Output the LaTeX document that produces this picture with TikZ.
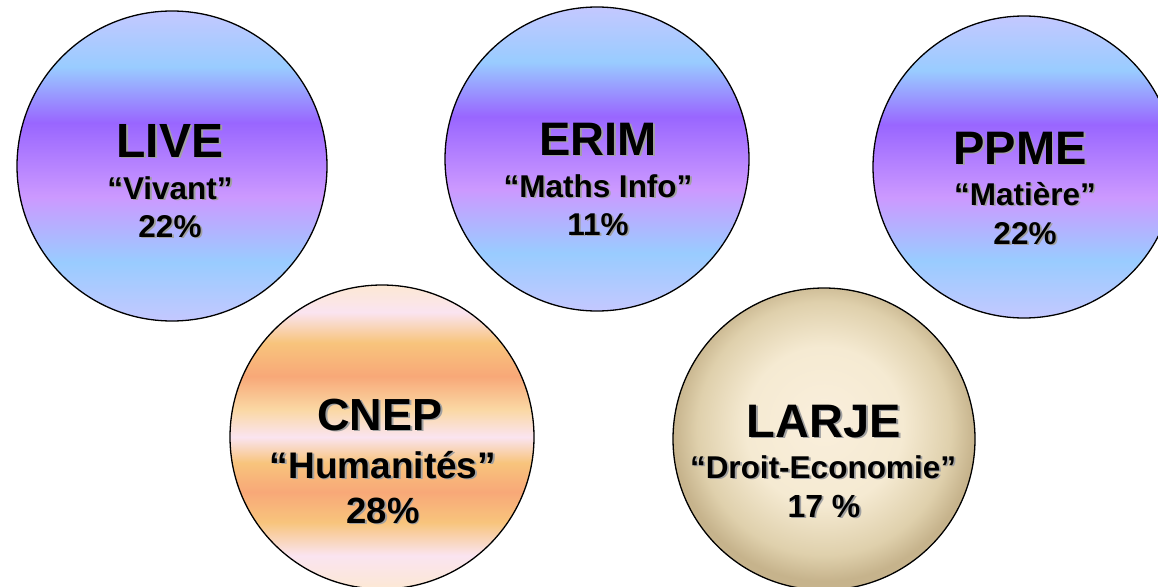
\documentclass[tikz,border=0pt]{standalone}
\usepackage{fontspec}
\setmainfont{Liberation Sans}
\definecolor{lav}{HTML}{C4C8FF}
\definecolor{lblue}{HTML}{99CCFF}
\definecolor{purp}{HTML}{9966FF}
\definecolor{lpurp}{HTML}{CC99FF}
\definecolor{peach}{HTML}{FCE8D4}
\definecolor{pinkw}{HTML}{FAE4F0}
\definecolor{oryel}{HTML}{F8C47C}
\definecolor{salmon}{HTML}{F8A878}
\definecolor{lyel}{HTML}{FAD8A4}
\definecolor{cream}{HTML}{FAEFDC}
\definecolor{cream2}{HTML}{F5EAD2}
\definecolor{tanA}{HTML}{DFD0AC}
\definecolor{tanB}{HTML}{C6B38C}
\definecolor{shadowgray}{HTML}{A0A0A0}
\pgfdeclareverticalshading{bluebands}{100bp}{color(0bp)=(lav); color(25bp)=(lav); color(34.5bp)=(lblue); color(45bp)=(lpurp); color(57bp)=(purp); color(66bp)=(lblue); color(75bp)=(lav); color(100bp)=(lav)}
\pgfdeclareverticalshading{orangebands}{100bp}{color(0bp)=(peach); color(25bp)=(peach); color(30.5bp)=(pinkw); color(36bp)=(oryel); color(41bp)=(salmon); color(45.75bp)=(oryel); color(50bp)=(pinkw); color(54.5bp)=(lyel); color(60bp)=(salmon); color(65.5bp)=(oryel); color(70.5bp)=(pinkw); color(75bp)=(peach); color(100bp)=(peach)}
\pgfdeclareradialshading{larjeshade}{\pgfpoint{0bp}{3bp}}{color(0bp)=(cream); color(13bp)=(cream2); color(21bp)=(tanA); color(25bp)=(tanB); color(50bp)=(tanB)}
\tikzset{
  bubble/.style={circle, draw=black, line width=1.3pt, inner sep=0pt, minimum size=#1},
  blueball/.style={shading=bluebands},
  orangeball/.style={shading=orangebands},
  tanball/.style={shading=larjeshade},
  lbl/.style={anchor=base, inner sep=0pt, font={\fontsize{#1}{#1}\selectfont\bfseries}},
  lblshadow/.style={text=shadowgray, xshift=1.8pt, yshift=-1.8pt}
}
\newcommand\shadowtext[5]{%
  \node[lbl=#4, lblshadow] (#1s) at (#2,#3) {#5};
  \node[lbl=#4] (#1) at (#2,#3) {#5};}
\begin{document}
\begin{tikzpicture}[x=1pt, y=-1pt]
\useasboundingbox (0,0) rectangle (1158,586);
\clip (0,0) rectangle (1158,586);
\node[bubble=310pt, blueball] (live) at (172,166) {};
\node[bubble=304pt, blueball] (erim) at (597,159) {};
\node[bubble=302pt, blueball] (ppme) at (1024,167) {};
\node[bubble=304pt, orangeball] (cnep) at (382,437) {};
\node[bubble=302pt, tanball] (larje) at (824,439) {};
\shadowtext{liveA}{170}{157}{48}{LIVE}
\shadowtext{liveB}{170}{199}{31.5}{“Vivant”}
\shadowtext{liveC}{170}{237}{31.5}{22\%}
\shadowtext{erimA}{598}{155}{47}{ERIM}
\shadowtext{erimB}{598}{197}{31.5}{“Maths Info”}
\shadowtext{erimC}{598}{235}{31.5}{11\%}
\shadowtext{ppmeA}{1020}{164}{47}{PPME}
\shadowtext{ppmeB}{1025}{205}{31.5}{“Matière”}
\shadowtext{ppmeC}{1025}{244}{31.5}{22\%}
\shadowtext{cnepA}{380}{430}{45}{CNEP}
\shadowtext{cnepB}{383}{478}{37}{“Humanités”}
\shadowtext{cnepC}{383}{523}{36.5}{28\%}
\shadowtext{larjeA}{824}{437}{47}{LARJE}
\shadowtext{larjeB}{823}{478}{31.5}{“Droit-Economie”}
\shadowtext{larjeC}{824}{517}{32}{17 \%}
\end{tikzpicture}
\end{document}
